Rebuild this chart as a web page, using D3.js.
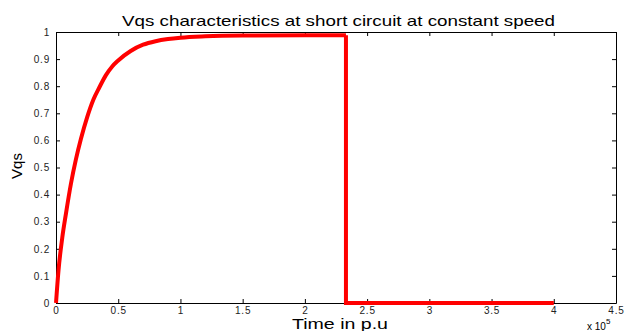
<!DOCTYPE html>
<head>
  <meta charset="utf-8">
  <script src="https://d3js.org/d3.v7.min.js"></script>
  <style>
    body { margin: 0; background: #fff; }
    text { font-family: "Liberation Sans", Arial, sans-serif; fill: #000; }
    .axis path, .axis line { stroke: #000; }
    .axis text { font-size: 10px; letter-spacing: 0.8px; fill: #222; }
  </style>
</head>
<body>
  <svg id="chart" width="625" height="331"></svg>
  <script>
    // rise phase, time in units of 1e5 p.u
    var riseTime = [0, 0.02, 0.05, 0.08, 0.12, 0.16, 0.2, 0.25, 0.3, 0.35, 0.4, 0.45, 0.5, 0.6, 0.7, 0.8, 0.9, 1.0, 1.2, 1.5, 2.0, 2.33];
    var riseVqs  = [0, 0.12, 0.24, 0.33, 0.44, 0.53, 0.605, 0.685, 0.75, 0.797, 0.84, 0.872, 0.895, 0.93, 0.953, 0.966, 0.974, 0.979, 0.984, 0.987, 0.988, 0.988];
    // short circuit: drop to zero and stay there
    var faultTime = [2.33, 2.33, 4.0];
    var faultVqs  = [0.988, 0, 0];
    var xTicks = [0, 0.5, 1, 1.5, 2, 2.5, 3, 3.5, 4, 4.5];
    var yTicks = [0, 0.1, 0.2, 0.3, 0.4, 0.5, 0.6, 0.7, 0.8, 0.9, 1];

    var svg = d3.select("#chart"),
      margin = { top: 32, right: 9, bottom: 28, left: 56 },
      width = 625 - margin.left - margin.right,
      height = 331 - margin.top - margin.bottom;

    var x = d3.scaleLinear().domain([0, 4.5]).range([margin.left, margin.left + width]);
    var y = d3.scaleLinear().domain([0, 1]).range([margin.top + height, margin.top]);

    var fmt = d => String(d);

    // bottom / left with labels, top / right ticks only
    svg.append("g").attr("class", "axis")
      .attr("transform", "translate(0," + (margin.top + height) + ")")
      .call(d3.axisBottom(x).tickValues(xTicks).tickFormat(fmt).tickSizeInner(-4).tickSizeOuter(0).tickPadding(4));
    svg.append("g").attr("class", "axis")
      .attr("transform", "translate(0," + margin.top + ")")
      .call(d3.axisTop(x).tickValues(xTicks).tickFormat("").tickSizeInner(-4).tickSizeOuter(0));
    svg.append("g").attr("class", "axis")
      .attr("transform", "translate(" + margin.left + ",0)")
      .call(d3.axisLeft(y).tickValues(yTicks).tickFormat(fmt).tickSizeInner(-4).tickSizeOuter(0).tickPadding(6));
    svg.append("g").attr("class", "axis")
      .attr("transform", "translate(" + (margin.left + width) + ",0)")
      .call(d3.axisRight(y).tickValues(yTicks).tickFormat("").tickSizeInner(-4).tickSizeOuter(0));

    var rise = d3.line().curve(d3.curveMonotoneX).x((d, i) => x(riseTime[i])).y(d => y(d));
    var fault = d3.line().x((d, i) => x(faultTime[i])).y(d => y(d));

    svg.append("path")
      .datum(riseVqs)
      .attr("fill", "none")
      .attr("stroke", "#ff0000")
      .attr("stroke-width", 4)
      .attr("d", rise);
    svg.append("path")
      .datum(faultVqs)
      .attr("fill", "none")
      .attr("stroke", "#ff0000")
      .attr("stroke-width", 4)
      .attr("stroke-linejoin", "miter")
      .attr("d", fault);

    svg.append("text")
      .attr("x", 122).attr("y", 26)
      .attr("font-size", 15)
      .attr("textLength", 433).attr("lengthAdjust", "spacingAndGlyphs")
      .text("Vqs characteristics at short circuit at constant speed");

    svg.append("text")
      .attr("x", 292).attr("y", 329)
      .attr("font-size", 14)
      .attr("textLength", 96).attr("lengthAdjust", "spacingAndGlyphs")
      .text("Time in p.u");

    svg.append("text")
      .attr("transform", "translate(22,166) rotate(-90)")
      .attr("text-anchor", "middle").attr("font-size", 15)
      .text("Vqs");

    var mult = svg.append("text")
      .attr("x", 587).attr("y", 330).attr("font-size", 10);
    mult.append("tspan").text("x 10");
    mult.append("tspan").attr("dy", -6).attr("font-size", 8).text("5");
  </script>
</body>
